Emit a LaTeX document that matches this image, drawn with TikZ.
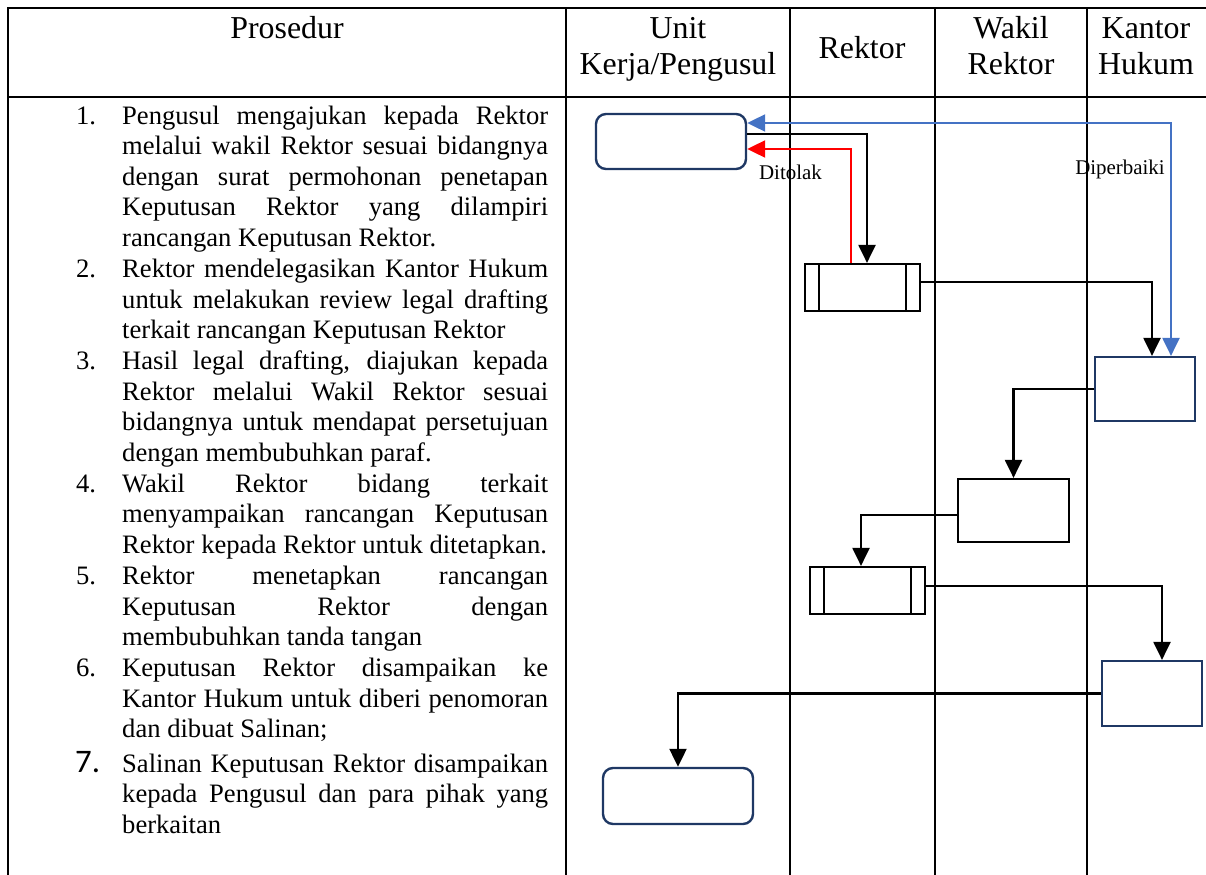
\documentclass[tikz,border=0pt]{standalone}
\usepackage{fontspec}
\setmainfont{Liberation Serif}
\newfontfamily\numfont{Carlito}
\usetikzlibrary{arrows.meta}
\definecolor{boxnavy}{RGB}{31,56,100}
\definecolor{lineblue}{RGB}{68,114,196}
\newcommand\bodyfont{\fontsize{26.7}{30.7}\selectfont\tolerance=10000\hyphenpenalty=10000}
\begin{document}
\begin{tikzpicture}[x=1bp,y=-1bp,
  grid/.style={line width=2.2bp},
  act/.style={draw,line width=2.2bp,inner sep=0pt},
  term/.style={act,draw=boxnavy,line width=2.4bp,rounded corners=10bp,minimum width=150bp,minimum height=55bp},
  hukum/.style={act,draw=boxnavy,minimum width=100bp,minimum height=64bp},
  subproc/.style={act,minimum width=115bp,minimum height=47bp,
    path picture={\draw[line width=2.2bp]
      ([xshift=14bp]path picture bounding box.north west) -- ([xshift=14bp]path picture bounding box.south west)
      ([xshift=-14bp]path picture bounding box.north east) -- ([xshift=-14bp]path picture bounding box.south east);}},
  tip/.style={Triangle[length=18bp,width=17bp]},
  conn/.style={line width=2.2bp,-{Triangle[length=18bp,width=17bp]}},
  head/.style={anchor=base,inner sep=0pt,text width=220bp,align=center,font=\fontsize{32}{37}\selectfont},
  steptext/.style={anchor=base west,inner sep=0pt,text width=426bp,align=justify,font=\bodyfont},
  stepnum/.style={anchor=base west,inner sep=0pt,font=\bodyfont},
  note/.style={anchor=base,inner sep=0pt,font=\fontsize{21}{24}\selectfont}]
% units are pixels of the 1206 x 875 sheet, y grows downward
\useasboundingbox (0,0) rectangle (1206,875);
\draw[grid,line width=2.6bp] (8,875) -- (8,8) -- (1206,8);
\draw[grid] (8,97) -- (1206,97);
\foreach \lx in {566,790,935,1087}
  \draw[grid] (\lx,8) -- (\lx,875);

% header
\node[head] (hprosedur) at (287,38) {Prosedur};
\node[head] (hunit) at (678,38) {Unit\\Kerja/Pengusul};
\node[head] (hrektor) at (862,58) {Rektor};
\node[head] (hwakil) at (1011,38) {Wakil\\Rektor};
\node[head] (hkantor) at (1146,38) {Kantor\\Hukum};

% procedure list
\node[stepnum] (n1) at (76,124) {1.};
\node[steptext] (s1) at (122,124) {Pengusul mengajukan kepada Rektor\linebreak
  melalui wakil Rektor sesuai bidangnya\linebreak
  dengan surat permohonan penetapan\linebreak
  Keputusan Rektor yang dilampiri\linebreak
  rancangan Keputusan Rektor.};
\node[stepnum] (n2) at (76,277.5) {2.};
\node[steptext] (s2) at (122,277.5) {Rektor mendelegasikan Kantor Hukum\linebreak
  untuk melakukan review legal drafting\linebreak
  terkait rancangan Keputusan Rektor};
\node[stepnum] (n3) at (76,369.6) {3.};
\node[steptext] (s3) at (122,369.6) {Hasil legal drafting, diajukan kepada\linebreak
  Rektor melalui Wakil Rektor sesuai\linebreak
  bidangnya untuk mendapat persetujuan\linebreak
  dengan membubuhkan paraf.};
\node[stepnum] (n4) at (76,492.4) {4.};
\node[steptext] (s4) at (122,492.4) {Wakil Rektor bidang terkait\linebreak
  menyampaikan rancangan Keputusan\linebreak
  Rektor kepada Rektor untuk ditetapkan.};
\node[stepnum] (n5) at (76,584.5) {5.};
\node[steptext] (s5) at (122,584.5) {Rektor menetapkan rancangan\linebreak
  Keputusan Rektor dengan\linebreak
  membubuhkan tanda tangan};
\node[stepnum] (n6) at (76,676.6) {6.};
\node[steptext] (s6) at (122,676.6) {Keputusan Rektor disampaikan ke\linebreak
  Kantor Hukum untuk diberi penomoran\linebreak
  dan dibuat Salinan;};
\node[stepnum,font=\numfont\fontsize{33}{36}\selectfont] (n7) at (75,772) {7.};
\node[steptext] (s7) at (122,772) {Salinan Keputusan Rektor disampaikan\linebreak
  kepada Pengusul dan para pihak yang\linebreak
  berkaitan};

% flow
\node[term] (start) at (671,141.5) {};
\node[subproc] (proc1) at (862.5,287.5) {};
\node[hukum] (kh1) at (1145,389) {};
\node[act,minimum width=111bp,minimum height=63bp] (wakil) at (1013.5,510.5) {};
\node[subproc] (proc2) at (867.5,590.5) {};
\node[hukum,minimum height=65bp] (kh2) at (1152,693.5) {};
\node[term,minimum height=56bp] (finish) at (678,796) {};

\draw[conn] ([yshift=7.5bp]start.east) -| ([xshift=4.5bp]proc1.north);
\draw[conn,red] ([xshift=-11.5bp]proc1.north) |- ([yshift=-7.5bp]start.east);
\draw[conn,lineblue,{Triangle[length=18bp,width=17bp]}-{Triangle[length=18bp,width=17bp]}]
  ([xshift=26bp]kh1.north) |- ([yshift=18.5bp]start.east);
\node[note] (ditolak) at (790.5,179) {Ditolak};
\node[note] (diperbaiki) at (1120,174) {Diperbaiki};
\draw[conn] ([yshift=5.5bp]proc1.east) -| ([xshift=7bp]kh1.north);
\draw[conn] (kh1.west) -| (wakil.north);
\draw[conn] ([yshift=-4.5bp]wakil.west) -| ([xshift=-6.5bp]proc2.north);
\draw[conn] ([yshift=4.5bp]proc2.east) -| ([xshift=10bp]kh2.north);
\draw[conn] (kh2.west) -| (finish.north);
\end{tikzpicture}
\end{document}
